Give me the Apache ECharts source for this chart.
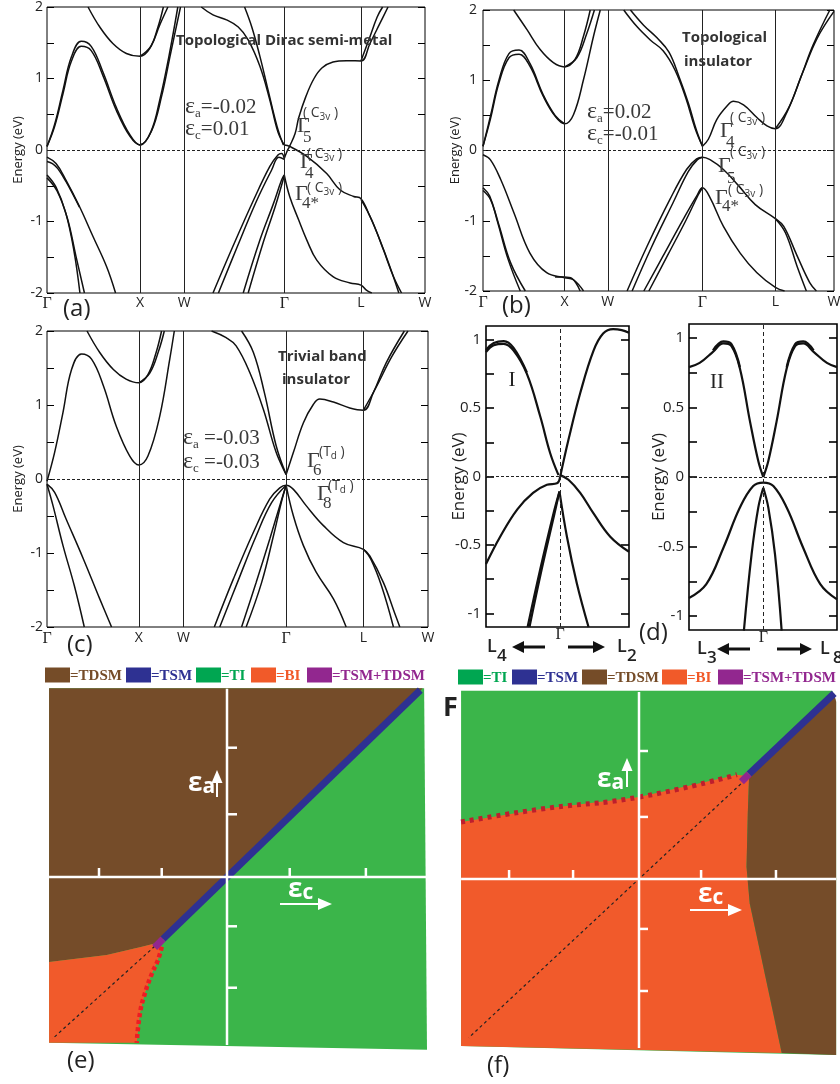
<!DOCTYPE html>
<html>
<head>
<meta charset="utf-8">
<title>Band structures and strain phase diagrams</title>
<script src="https://cdn.jsdelivr.net/npm/echarts@6.0.0/dist/echarts.min.js"></script>
<style>
  html, body { margin: 0; padding: 0; background: #fff; }
  #main { width: 840px; height: 1084px; }
</style>
</head>
<body>
<div id="main"></div>
<script>
// ---- k path / energy ticks ----
var kNames = ['Γ', 'X', 'W', 'Γ', 'L', 'W'];
var kTicksA = [0, 1.03, 1.52, 2.63, 3.48, 4.19];
var kTicksB = [0, 0.974, 1.49, 2.62, 3.49, 4.19];
var kTicksC = [0, 1.01, 1.50, 2.63, 3.48, 4.19];
var eTicks = [-2, -1.5, -1, -0.5, 0, 0.5, 1, 1.5, 2];
var eLabels = [-2, -1, 0, 1, 2];
var dTicks = [-1, -0.75, -0.5, -0.25, 0, 0.25, 0.5, 0.75, 1];
var dLabels = [-1, -0.5, 0, 0.5, 1];

// ---- (a) topological Dirac semi-metal, [k, E(eV)] ----
var bandsA = [
  [[0,0.05],[0.085,0.33],[0.178,0.79],[0.27,1.24],[0.38,1.45],[0.49,1.39],[0.62,1.04],[0.77,0.55],[0.92,0.19],[1.03,0.07],[1.15,0.25],[1.25,0.7],[1.35,1.3],[1.45,2.0]],
  [[0,0.05],[0.085,0.36],[0.178,0.84],[0.27,1.3],[0.38,1.52],[0.49,1.45],[0.62,1.09],[0.77,0.59],[0.92,0.21],[1.03,0.07],[1.16,0.27],[1.27,0.75],[1.37,1.35],[1.48,2.0]],
  [[0.455,2.0],[0.585,1.72],[0.73,1.49],[0.88,1.35],[1.03,1.31],[1.14,1.42],[1.23,1.72],[1.29,2.0]],
  [[1.03,1.31],[1.15,1.45],[1.25,1.75],[1.34,2.0]],
  [[0,-0.1],[0.1,-0.19],[0.21,-0.42],[0.36,-0.79],[0.51,-1.21],[0.66,-1.63],[0.76,-2.0]],
  [[0,-0.16],[0.06,-0.19],[0.12,-0.26],[0.21,-0.44],[0.36,-0.8]],
  [[0,-0.35],[0.1,-0.52],[0.21,-0.89],[0.3,-1.42],[0.365,-2.0]],
  [[0,-0.39],[0.11,-0.57],[0.225,-0.95],[0.32,-1.48],[0.415,-2.0]],
  [[1.71,2.0],[1.84,1.89],[1.99,1.82],[2.12,1.72],[2.23,1.54],[2.36,1.17],[2.47,0.70],[2.56,0.25],[2.63,0.07]],
  [[2.19,2.0],[2.27,1.72],[2.36,1.31],[2.45,0.84],[2.55,0.33],[2.62,0.07]],
  [[1.84,-2.0],[2.06,-1.35],[2.29,-0.70],[2.47,-0.23],[2.56,-0.07],[2.60,-0.05],[2.63,-0.12]],
  [[1.90,-2.0],[2.11,-1.35],[2.32,-0.72],[2.49,-0.28],[2.57,-0.1],[2.63,-0.13]],
  [[2.175,-2.0],[2.36,-1.26],[2.51,-0.75],[2.60,-0.42],[2.63,-0.35]],
  [[2.23,-2.0],[2.40,-1.28],[2.53,-0.79],[2.63,-0.36]],
  [[2.63,-0.12],[2.66,-0.02],[2.69,0.055],[2.75,0.23],[2.79,0.45],[2.87,0.75],[2.96,1.0],[3.05,1.15],[3.17,1.23],[3.32,1.25],[3.48,1.245],[3.58,1.49],[3.69,1.77],[3.78,2.0]],
  [[3.48,1.245],[3.57,1.55],[3.66,1.86],[3.72,2.0]],
  [[2.63,0.07],[2.69,0.05],[2.88,-0.09],[3.10,-0.33],[3.25,-0.56],[3.40,-0.65],[3.48,-0.68],[3.58,-0.93],[3.69,-1.26],[3.80,-1.63],[3.90,-2.0]],
  [[3.48,-0.69],[3.60,-0.98],[3.73,-1.40],[3.84,-1.77],[3.93,-2.0]],
  [[2.63,-0.35],[2.69,-0.65],[2.79,-0.98],[2.88,-1.26],[2.99,-1.54],[3.17,-1.77],[3.36,-1.86],[3.48,-1.89],[3.54,-1.96],[3.60,-2.0]]
];

// ---- (b) topological insulator ----
var bandsB = [
  [[0,0.06],[0.087,0.44],[0.19,0.96],[0.31,1.32],[0.43,1.37],[0.56,1.20],[0.72,0.77],[0.86,0.49],[0.974,0.38],[1.08,0.51],[1.2,1.01],[1.32,1.63],[1.40,2.0]],
  [[0,0.06],[0.087,0.48],[0.19,1.0],[0.31,1.38],[0.43,1.43],[0.56,1.24],[0.72,0.79],[0.86,0.5],[0.974,0.38]],
  [[0.366,2.0],[0.525,1.72],[0.68,1.44],[0.84,1.25],[0.974,1.19],[1.10,1.30],[1.2,1.63],[1.28,2.0]],
  [[0.974,1.19],[1.12,1.32],[1.24,1.67],[1.33,2.0]],
  [[0,-0.06],[0.087,-0.13],[0.21,-0.41],[0.37,-0.89],[0.56,-1.46],[0.76,-1.74],[0.974,-1.81],[1.08,-1.84],[1.2,-2.0]],
  [[0.86,-1.8],[0.974,-1.80],[1.06,-1.82],[1.16,-2.0]],
  [[0,-0.53],[0.08,-0.65],[0.17,-1.0],[0.3,-1.55],[0.445,-2.0]],
  [[0,-0.57],[0.09,-0.7],[0.19,-1.06],[0.33,-1.6],[0.505,-2.0]],
  [[1.68,2.0],[1.84,1.76],[2.0,1.57],[2.15,1.42],[2.29,1.15],[2.42,0.75],[2.53,0.32],[2.62,0.06]],
  [[1.76,2.0],[1.92,1.78],[2.08,1.6],[2.22,1.4],[2.34,1.05],[2.45,0.68],[2.55,0.28],[2.62,0.06]],
  [[2.62,0.06],[2.69,0.16],[2.79,0.44],[2.91,0.63],[2.99,0.70],[3.11,0.65],[3.27,0.47],[3.39,0.35],[3.49,0.31],[3.63,0.55],[3.79,1.03],[3.94,1.5],[4.14,2.0]],
  [[3.49,0.31],[3.65,0.61],[3.82,1.12],[3.99,1.6],[4.19,1.98]],
  [[1.72,-2.0],[1.96,-1.36],[2.23,-0.70],[2.43,-0.27],[2.55,-0.12],[2.62,-0.095],[2.71,-0.13],[2.87,-0.27],[3.05,-0.5],[3.25,-0.77],[3.49,-0.97],[3.59,-1.08],[3.75,-1.50],[3.90,-1.88],[3.98,-2.0]],
  [[1.78,-2.0],[2.01,-1.38],[2.27,-0.74],[2.45,-0.3],[2.56,-0.13],[2.62,-0.095]],
  [[3.49,-0.97],[3.61,-1.17],[3.75,-1.65],[3.86,-2.0]],
  [[1.92,-2.0],[2.15,-1.50],[2.39,-0.98],[2.55,-0.65],[2.62,-0.53],[2.71,-0.67],[2.87,-1.08],[3.07,-1.46],[3.27,-1.74],[3.49,-1.95],[3.6,-2.0]],
  [[1.98,-2.0],[2.2,-1.5],[2.42,-1.0],[2.57,-0.63],[2.62,-0.53]]
];

// ---- (c) trivial band insulator ----
var bandsC = [
  [[0,-0.03],[0.084,0.36],[0.176,0.90],[0.27,1.48],[0.38,1.69],[0.49,1.62],[0.62,1.26],[0.76,0.72],[0.91,0.31],[1.01,0.19],[1.11,0.31],[1.24,0.85],[1.35,1.62],[1.40,2.0]],
  [[0.44,2.0],[0.58,1.71],[0.73,1.48],[0.87,1.35],[1.01,1.30],[1.11,1.41],[1.20,1.71],[1.26,2.0]],
  [[1.01,1.30],[1.13,1.43],[1.23,1.74],[1.29,2.0]],
  [[0,-0.07],[0.084,-0.18],[0.21,-0.54],[0.40,-1.08],[0.58,-1.62],[0.71,-2.0]],
  [[0,-0.07],[0.066,-0.36],[0.176,-0.90],[0.30,-1.44],[0.41,-2.0]],
  [[1.81,2.0],[1.97,1.91],[2.08,1.80],[2.23,1.44],[2.38,0.94],[2.52,0.36],[2.63,0.06]],
  [[2.14,2.0],[2.27,1.71],[2.39,1.17],[2.52,0.45],[2.63,0.06]],
  [[2.63,0.06],[2.71,0.36],[2.82,0.76],[2.93,1.01],[3.0,1.08],[3.15,1.04],[3.33,0.96],[3.48,0.93],[3.59,1.17],[3.73,1.57],[3.93,2.0]],
  [[3.48,0.93],[3.62,1.24],[3.79,1.65],[3.97,2.0]],
  [[1.84,-2.0],[2.05,-1.35],[2.27,-0.72],[2.45,-0.27],[2.56,-0.12],[2.63,-0.085],[2.71,-0.14],[2.85,-0.36],[3.04,-0.63],[3.26,-0.86],[3.48,-0.95],[3.55,-1.04],[3.70,-1.40],[3.82,-1.80],[3.88,-2.0]],
  [[1.90,-2.0],[2.10,-1.38],[2.30,-0.77],[2.47,-0.32],[2.63,-0.085]],
  [[3.48,-0.95],[3.56,-1.08],[3.68,-1.45],[3.81,-2.0]],
  [[2.14,-2.0],[2.30,-1.40],[2.45,-0.81],[2.56,-0.36],[2.63,-0.085]],
  [[2.19,-2.0],[2.36,-1.40],[2.49,-0.77],[2.58,-0.30],[2.63,-0.085]],
  [[2.63,-0.085],[2.71,-0.50],[2.82,-0.90],[2.96,-1.26],[3.15,-1.62],[3.29,-2.0]]
];

// ---- (d) zoom near Gamma, k relative to Gamma ----
var bandsD1 = [
  [[-0.519,0.91],[-0.465,0.96],[-0.395,0.97],[-0.326,0.92],[-0.233,0.75],[-0.14,0.44],[-0.07,0.17],[-0.012,0.01]],
  [[-0.519,0.925],[-0.465,0.975],[-0.395,0.99],[-0.326,0.94],[-0.233,0.76]],
  [[0,0.0],[0.058,0.27],[0.14,0.61],[0.233,0.92],[0.30,1.045],[0.37,1.077],[0.43,1.07],[0.481,1.05]],
  [[-0.519,-0.64],[-0.42,-0.44],[-0.30,-0.24],[-0.19,-0.12],[-0.093,-0.06],[-0.023,-0.05],[0,0.0]],
  [[0,0.01],[0.058,-0.024],[0.14,-0.12],[0.233,-0.27],[0.35,-0.44],[0.481,-0.55]],
  [[-0.228,-1.10],[-0.14,-0.68],[-0.047,-0.27],[-0.005,-0.11]],
  [[-0.215,-1.10],[-0.13,-0.68],[-0.04,-0.27],[-0.005,-0.11]],
  [[-0.005,-0.11],[0.047,-0.44],[0.116,-0.78],[0.198,-1.10]]
];
var bandsD2 = [
  [[-0.502,0.79],[-0.43,0.82],[-0.34,0.90],[-0.27,0.96],[-0.215,0.94],[-0.158,0.78],[-0.09,0.40],[-0.034,0.115],[0,0]],
  [[0,0],[0.034,0.115],[0.09,0.40],[0.158,0.78],[0.215,0.94],[0.27,0.96],[0.34,0.90],[0.43,0.82],[0.498,0.79]],
  [[-0.34,0.91],[-0.27,0.975],[-0.215,0.955],[-0.158,0.79]],
  [[0.158,0.79],[0.215,0.955],[0.27,0.975],[0.34,0.91]],
  [[-0.502,-0.87],[-0.385,-0.77],[-0.27,-0.51],[-0.158,-0.22],[-0.068,-0.065],[0,-0.04],[0.068,-0.065],[0.158,-0.22],[0.27,-0.51],[0.385,-0.77],[0.498,-0.88]],
  [[-0.131,-1.105],[-0.079,-0.555],[-0.034,-0.22],[0,-0.077]],
  [[0,-0.077],[0.034,-0.22],[0.079,-0.555],[0.124,-1.105]]
];

// ---- (e) phase diagram, strain in units of 0.01 (eps_c across, eps_a up) ----
var frameE = [[-2.78,2.95],[3.08,2.95],[3.125,-2.70],[-2.78,-2.59]];
var tdsmE = [[-2.78,2.95],[3.06,2.95],[-1.05,-1.02],[-1.33,-1.09],[-1.88,-1.22],[-2.78,-1.33]];
var biE = [[-2.78,-1.33],[-1.88,-1.22],[-1.33,-1.09],[-1.05,-1.02],[-1.02,-1.09],[-1.08,-1.30],[-1.17,-1.5],[-1.28,-1.81],[-1.36,-2.13],[-1.41,-2.59],[-2.78,-2.59]];
var biEdgeE = [[-1.02,-1.09],[-1.08,-1.30],[-1.17,-1.5],[-1.28,-1.81],[-1.36,-2.13],[-1.41,-2.59]];
var tsmE = [[-1.0,-0.97],[3.02,2.92]];
var mixE = [[-1.13,-1.10],[-1.0,-0.97]];
var diagE = [[-1.06,-1.02],[-2.73,-2.53]];
var tickXE = [-2.0, -1.02, 0.98, 2.17];
var tickYE = [2.02, 0.98, -0.77, -1.73];

// ---- (f) phase diagram ----
var frameF = [[-2.78,2.94],[3.02,2.94],[3.08,2.77],[3.08,-2.75],[-2.78,-2.61]];
var biF = [[-2.78,0.89],[-1.55,1.09],[0,1.28],[1.53,1.63],[1.72,1.60],[1.70,1.03],[1.68,0.19],[1.73,-0.38],[2.23,-2.72],[-2.78,-2.61]];
var tdsmF = [[1.72,1.60],[3.05,2.90],[3.08,2.77],[3.08,-2.75],[2.23,-2.72],[1.73,-0.38],[1.68,0.19],[1.70,1.03]];
var biEdgeF = [[-2.78,0.89],[-1.55,1.09],[0,1.28],[1.53,1.63]];
var tsmF = [[1.72,1.64],[3.05,2.90]];
var mixF = [[1.60,1.52],[1.72,1.64]];
var diagF = [[1.66,1.55],[-2.66,-2.48]];
var tickXF = [-2.03, -1.03, 0.97, 2.14];
var tickYF = [2.0, 0.97, -0.78, -1.75];

var legendE = [['=TDSM', '#754c28'], ['=TSM', '#2e3192'], ['=TI', '#00a651'], ['=BI', '#f15a29'], ['=TSM+TDSM', '#92278f']];
var legendF = [['=TI', '#00a651'], ['=TSM', '#2e3192'], ['=TDSM', '#754c28'], ['=BI', '#f15a29'], ['=TSM+TDSM', '#92278f']];

var SANS = '"Open Sans", "Noto Sans", "DejaVu Sans", sans-serif';
var SERIF = '"Liberation Serif", "DejaVu Serif", serif';
var INK = '#111';
var TXT = '#3a3a3a';
var C_TDSM = '#754c29', C_TI = '#3bb54a', C_BI = '#f15a2b', C_TSM = '#2e3192', C_MIX = '#92278f';

var chart = echarts.init(document.getElementById('main'));
var option = { animation: false, backgroundColor: '#fff', grid: [], xAxis: [], yAxis: [], series: [] };
var gfx = [];

function nearestIndex(arr, v) {
  var best = 0;
  for (var i = 1; i < arr.length; i++) {
    if (Math.abs(arr[i] - v) < Math.abs(arr[best] - v)) best = i;
  }
  return best;
}

function addGrid(box, frame) {
  option.grid.push({
    left: box[0], top: box[1], width: box[2], height: box[3],
    show: frame > 0, borderColor: '#000', borderWidth: frame,
    backgroundColor: 'rgba(0,0,0,0)', outerBoundsMode: 'none', containLabel: false
  });
  return option.grid.length - 1;
}

// one band-structure panel
function bandPanel(box, xr, xVals, xNames, yr, yTicks, yLabels, bands, st) {
  var gi = addGrid(box, st.frame);
  option.xAxis.push({
    gridIndex: gi, type: 'value', min: xr[0], max: xr[1],
    axisLine: { show: false, onZero: false }, axisTick: { show: false }, splitLine: { show: false },
    axisLabel: {
      customValues: xVals, margin: st.xMargin,
      formatter: function (v) {
        var n = xNames[nearestIndex(xVals, v)];
        return n === 'Γ' ? '{g|Γ}' : '{s|' + n + '}';
      },
      rich: {
        g: { fontFamily: SERIF, fontSize: st.xSize + 2, color: '#222' },
        s: { fontFamily: SANS, fontSize: st.xSize, color: '#222' }
      }
    }
  });
  var xi = option.xAxis.length - 1;
  var tick = { show: true, inside: true, length: st.tick, customValues: yTicks, lineStyle: { color: '#000', width: st.frame } };
  option.yAxis.push({
    gridIndex: gi, type: 'value', min: yr[0], max: yr[1],
    name: 'Energy (eV)', nameLocation: 'middle', nameGap: st.nameGap, nameMoveOverlap: false,
    nameTextStyle: { fontFamily: SANS, fontSize: st.nameSize, color: '#222' },
    axisLine: { show: false, onZero: false }, splitLine: { show: false }, axisTick: tick,
    axisLabel: { customValues: yLabels, margin: st.yMargin, fontFamily: SANS, fontSize: st.ySize, color: '#222' }
  });
  var yi = option.yAxis.length - 1;
  option.yAxis.push({
    gridIndex: gi, type: 'value', position: 'right', min: yr[0], max: yr[1],
    axisLine: { show: false, onZero: false }, splitLine: { show: false }, axisTick: tick, axisLabel: { show: false }
  });
  var marks = st.vLines.map(function (v) {
    return { xAxis: v, lineStyle: { type: st.vDash ? [4, 3] : 'solid' } };
  });
  marks.push({ yAxis: 0, lineStyle: { type: [3, 2] } });
  option.series.push({
    type: 'line', xAxisIndex: xi, yAxisIndex: yi, data: [], silent: true,
    markLine: { silent: true, symbol: 'none', label: { show: false }, animation: false,
      lineStyle: { color: '#222', width: 1 }, data: marks }
  });
  bands.forEach(function (b) {
    option.series.push({
      type: 'line', xAxisIndex: xi, yAxisIndex: yi, data: b, smooth: 0.4,
      symbol: 'none', showSymbol: false, silent: true, z: 3,
      lineStyle: { color: INK, width: st.lw }
    });
  });
}

function phasePanel(box, xr, yr) {
  var gi = addGrid(box, 0);
  option.xAxis.push({ gridIndex: gi, type: 'value', min: xr[0], max: xr[1], show: false, axisLine: { onZero: false } });
  option.yAxis.push({ gridIndex: gi, type: 'value', min: yr[0], max: yr[1], show: false, axisLine: { onZero: false } });
  return { x: option.xAxis.length - 1, y: option.yAxis.length - 1 };
}

function area(ax, pts, color, z) {
  option.series.push({
    type: 'custom', xAxisIndex: ax.x, yAxisIndex: ax.y, data: pts, silent: true, z: z,
    renderItem: function (params, api) {
      if (params.dataIndex !== 0) return null;
      return { type: 'polygon', shape: { points: pts.map(function (p) { return api.coord(p); }) }, style: { fill: color } };
    }
  });
}

function path(ax, pts, color, width, type, smooth, z) {
  option.series.push({
    type: 'line', xAxisIndex: ax.x, yAxisIndex: ax.y, data: pts, smooth: smooth,
    symbol: 'none', showSymbol: false, silent: true, clip: false, z: z,
    lineStyle: { color: color, width: width, type: type, cap: 'butt' }
  });
}

function tickMarks(ax, pts, dx, dy) {
  option.series.push({
    type: 'custom', xAxisIndex: ax.x, yAxisIndex: ax.y, data: pts, silent: true, z: 6,
    renderItem: function (params, api) {
      var p = api.coord([api.value(0), api.value(1)]);
      return { type: 'line', shape: { x1: p[0], y1: p[1], x2: p[0] + dx, y2: p[1] + dy }, style: { stroke: '#fff', lineWidth: 2.5 } };
    }
  });
}

// ---- band panels ----
var bandStyle = { frame: 1, xMargin: 3, xSize: 14, tick: 7, nameGap: 22, nameSize: 13, yMargin: 4, ySize: 14, lw: 1.5 };
bandPanel([47, 7, 378, 286], [0, 4.19], kTicksA, kNames, [-2, 2], eTicks, eLabels, bandsA,
  Object.assign({}, bandStyle, { vLines: kTicksA.slice(1, 5) }));
bandPanel([483, 10, 351, 281], [0, 4.19], kTicksB, kNames, [-2, 2], eTicks, eLabels, bandsB,
  Object.assign({}, bandStyle, { vLines: kTicksB.slice(1, 5), nameGap: 21, yMargin: 6, xMargin: 4 }));
bandPanel([47, 331, 381, 296], [0, 4.19], kTicksC, kNames, [-2, 2], eTicks, eLabels, bandsC,
  Object.assign({}, bandStyle, { vLines: kTicksC.slice(1, 5), xMargin: 4 }));
var dStyle = { frame: 1.6, xMargin: 0, xSize: 14, tick: 8, nameGap: 18, nameSize: 17, yMargin: 5, ySize: 15, lw: 2.2, vLines: [0], vDash: true };
bandPanel([486, 326, 143, 301], [-0.519, 0.481], [0], ['Γ'], [-1.1, 1.1], dTicks, dLabels, bandsD1, dStyle);
bandPanel([689, 324, 148, 306], [-0.502, 0.498], [0], ['Γ'], [-1.1, 1.1], dTicks, dLabels, bandsD2,
  Object.assign({}, dStyle, { nameGap: 21 }));

// ---- phase diagram (e) ----
var axE = phasePanel([49, 688, 378, 362], [-2.78125, 3.125], [-2.703, 2.953]);
area(axE, frameE, C_TI, 1);
area(axE, tdsmE, C_TDSM, 2);
area(axE, biE, C_BI, 2);
path(axE, diagE, '#222', 1.2, [3, 3], false, 4);
path(axE, biEdgeE, '#ed1c24', 4.5, [4, 3], true, 4);
path(axE, tsmE, C_TSM, 7, 'solid', false, 5);
path(axE, mixE, C_MIX, 7, 'solid', false, 5);
path(axE, [[0, 2.94], [0, -2.625]], '#fff', 2.5, 'solid', false, 6);
path(axE, [[-2.78, 0], [3.125, 0]], '#fff', 2.5, 'solid', false, 6);
tickMarks(axE, tickXE.map(function (v) { return [v, 0]; }), 0, -9);
tickMarks(axE, tickYE.map(function (v) { return [0, v]; }), 10, 0);

// ---- phase diagram (f) ----
var axF = phasePanel([461, 691, 375, 364], [-2.78125, 3.078], [-2.75, 2.9375]);
area(axF, frameF, C_TI, 1);
area(axF, biF, C_BI, 2);
area(axF, tdsmF, C_TDSM, 2);
path(axF, diagF, '#222', 1.2, [3, 3], false, 4);
path(axF, biEdgeF, '#be1e2d', 5, [4, 5], true, 4);
path(axF, tsmF, C_TSM, 7, 'solid', false, 5);
path(axF, mixF, C_MIX, 7, 'solid', false, 5);
path(axF, [[0, 2.92], [0, -2.64]], '#fff', 2.5, 'solid', false, 6);
path(axF, [[-2.78, 0], [3.078, 0]], '#fff', 2.5, 'solid', false, 6);
tickMarks(axF, tickXF.map(function (v) { return [v, 0]; }), 0, -9);
tickMarks(axF, tickYF.map(function (v) { return [0, v]; }), 9, 0);

// ---- annotations ----
function txt(x, y, text, font, color, align) {
  return { type: 'text', x: x, y: y, silent: true, z: 100,
    style: { text: text, font: font, fill: color || TXT, align: align || 'left', textAlign: align || 'left',
      verticalAlign: 'middle', textVerticalAlign: 'middle' } };
}
function richTxt(x, y, text, rich) {
  return { type: 'text', x: x, y: y, silent: true, z: 100,
    style: { text: text, rich: rich, align: 'left', textAlign: 'left', verticalAlign: 'middle', textVerticalAlign: 'middle' } };
}
function arrow(x1, y1, x2, y2, color, w, hl, hw) {
  var dx = x2 - x1, dy = y2 - y1, L = Math.sqrt(dx * dx + dy * dy), ux = dx / L, uy = dy / L;
  var bx = x2 - ux * hl, by = y2 - uy * hl;
  return [
    { type: 'line', silent: true, z: 100, shape: { x1: x1, y1: y1, x2: bx, y2: by }, style: { stroke: color, lineWidth: w } },
    { type: 'polygon', silent: true, z: 100, shape: { points: [[x2, y2], [bx - uy * hw / 2, by + ux * hw / 2], [bx + uy * hw / 2, by - ux * hw / 2]] }, style: { fill: color } }
  ];
}

var epsRich = {
  e: { fontFamily: SERIF, fontSize: 24, fill: TXT, lineHeight: 26, verticalAlign: 'middle' },
  s: { fontFamily: SERIF, fontSize: 13, fill: TXT, lineHeight: 14, verticalAlign: 'bottom' },
  t: { fontFamily: SERIF, fontSize: 21, fill: TXT, lineHeight: 26, verticalAlign: 'middle' }
};
var supRich = {
  p: { fontFamily: SANS, fontSize: 14, fill: TXT, lineHeight: 18, verticalAlign: 'middle' },
  c: { fontFamily: SANS, fontSize: 14, fill: TXT, lineHeight: 18, verticalAlign: 'middle' },
  q: { fontFamily: SANS, fontSize: 10, fill: TXT, lineHeight: 12, verticalAlign: 'bottom' }
};
function eps(x, y, sub, rest) {
  return richTxt(x, y, '{e|ε}{s|' + sub + '}{t|' + rest + '}', epsRich);
}
function gamma(g, sub, sup) {
  return [
    txt(g[0], g[1], 'Γ', '22px ' + SERIF),
    txt(sub[0], sub[1], sub[2], '17px ' + SERIF),
    richTxt(sup[0], sup[1], sup[2], supRich)
  ];
}
var C3V = '{p|( }{c|C}{q|3v}{p| )}';
var TD = '{p|(}{c|T}{q|d}{p| )}';

// (a)
gfx.push(txt(176, 41, 'Topological Dirac semi-metal', 'bold 15px ' + SANS, '#333'));
gfx.push(eps(185, 107, 'a', '=-0.02'), eps(185, 129, 'c', '=0.01'));
gfx = gfx.concat(gamma([297, 126], [303, 138, '5'], [303, 113, C3V]));
gfx = gfx.concat(gamma([300, 162], [305, 174, '4'], [307, 154, C3V]));
gfx = gfx.concat(gamma([295, 194], [302, 204, '4*'], [307, 188, C3V]));
gfx.push(txt(63, 309, '(a)', '24px ' + SANS, '#222'));
// (b)
gfx.push(txt(682, 38, 'Topological', 'bold 15px ' + SANS, '#333'));
gfx.push(txt(684, 62, 'insulator', 'bold 15px ' + SANS, '#333'));
gfx.push(eps(587, 112, 'a', '=0.02'), eps(587, 134, 'c', '=-0.01'));
gfx = gfx.concat(gamma([720, 131], [726, 143, '4'], [730, 118, C3V]));
gfx = gfx.concat(gamma([718, 166], [727, 179, '5'], [730, 152, C3V]));
gfx = gfx.concat(gamma([715, 198], [722, 207, '4*'], [728, 190, C3V]));
gfx.push(txt(502, 306, '(b)', '24px ' + SANS, '#222'));
// (c)
gfx.push(txt(278, 357, 'Trivial band', 'bold 15px ' + SANS, '#333'));
gfx.push(txt(282, 380, 'insulator', 'bold 15px ' + SANS, '#333'));
gfx.push(eps(183, 438, 'a', ' =-0.03'), eps(183, 462, 'c', ' =-0.03'));
gfx = gfx.concat(gamma([307, 461], [313, 471, '6'], [319, 452, TD]));
gfx = gfx.concat(gamma([317, 494], [323, 504, '8'], [328, 486, TD]));
gfx.push(txt(67, 645, '(c)', '24px ' + SANS, '#222'));
// (d)
gfx.push(txt(512, 380, 'I', '21px ' + SERIF, '#222', 'center'));
gfx.push(txt(717, 382, 'II', '21px ' + SERIF, '#222', 'center'));
gfx.push(txt(639, 633, '(d)', '24px ' + SANS, '#222'));
gfx.push(txt(487, 647, 'L', '600 18px ' + SANS, '#222'), txt(497, 656, '4', '600 17px ' + SANS, '#222'));
gfx.push(txt(617, 647, 'L', '600 18px ' + SANS, '#222'), txt(627, 656, '2', '600 17px ' + SANS, '#222'));
gfx.push(txt(697, 649, 'L', '600 18px ' + SANS, '#222'), txt(707, 658, '3', '600 17px ' + SANS, '#222'));
gfx.push(txt(820, 649, 'L', '600 18px ' + SANS, '#222'), txt(833, 658, '8', '600 17px ' + SANS, '#222'));
gfx = gfx.concat(arrow(545, 647, 512, 647, '#111', 3, 12, 12), arrow(568, 647, 605, 647, '#111', 3, 12, 12));
gfx = gfx.concat(arrow(750, 649, 717, 649, '#111', 3, 12, 12), arrow(777, 649, 812, 649, '#111', 3, 12, 12));
// (e), (f)
var whiteRich = {
  e: { fontFamily: SANS, fontWeight: 'bold', fontSize: 26, fill: '#fff', lineHeight: 28, verticalAlign: 'middle' },
  s: { fontFamily: SANS, fontWeight: 'bold', fontSize: 21, fill: '#fff', lineHeight: 18, verticalAlign: 'bottom' }
};
gfx.push(richTxt(188, 784, '{e|ε}{s|a}', whiteRich), richTxt(288, 890, '{e|ε}{s|c}', whiteRich));
gfx = gfx.concat(arrow(217, 797, 217, 770, '#fff', 2, 13, 11), arrow(280, 904, 332, 904, '#fff', 2, 14, 12));
gfx.push(richTxt(597, 780, '{e|ε}{s|a}', whiteRich), richTxt(698, 895, '{e|ε}{s|c}', whiteRich));
gfx = gfx.concat(arrow(627, 787, 627, 758, '#fff', 2, 13, 11), arrow(690, 910, 742, 910, '#fff', 2, 14, 12));
gfx.push(txt(67, 1061, '(e)', '24px ' + SANS, '#222'));
gfx.push(txt(487, 1066, '(f)', '24px ' + SANS, '#222'));
gfx.push(txt(443, 708, 'F', 'bold 27px ' + SANS, '#222'));

function legendRow(xs, y, items) {
  items.forEach(function (it, i) {
    gfx.push({ type: 'rect', silent: true, z: 100, shape: { x: xs[i], y: y - 7.5, width: 25, height: 15 }, style: { fill: it[1] } });
    gfx.push(txt(xs[i] + 25, y + 1, it[0], 'bold 15px ' + SERIF, it[1]));
  });
}
legendRow([45, 126, 196, 251, 307], 675, legendE);
legendRow([458, 512, 582, 662, 718], 677, legendF);

option.graphic = { elements: gfx };
chart.setOption(option);
</script>
</body>
</html>
